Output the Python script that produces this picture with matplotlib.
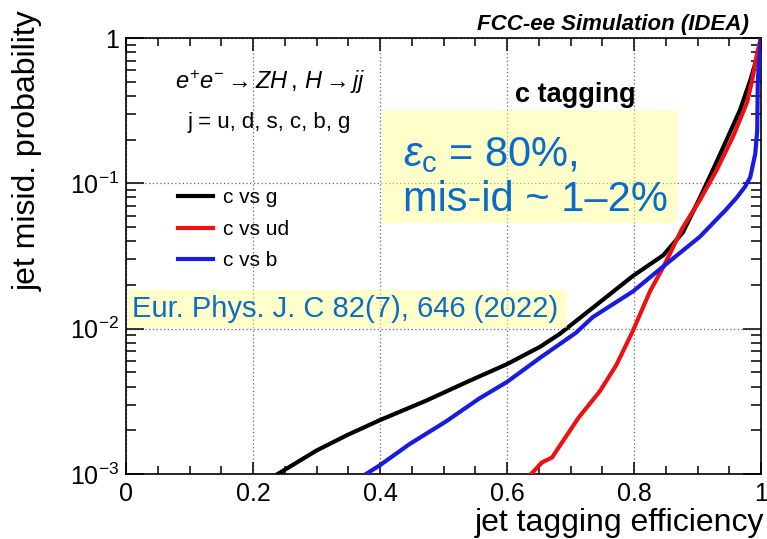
import matplotlib
matplotlib.use("Agg")
import matplotlib.pyplot as plt
import matplotlib.patches as patches
from matplotlib.ticker import LogLocator, NullFormatter, MultipleLocator

plt.rcParams['font.family'] = ['Liberation Sans', 'DejaVu Sans']
plt.rcParams['mathtext.fontset'] = 'custom'
plt.rcParams['mathtext.rm'] = 'Liberation Sans'
plt.rcParams['mathtext.it'] = 'Liberation Sans:italic'

# c vs g
eff_g = [0.239, 0.30, 0.348, 0.40, 0.473, 0.537, 0.60, 0.652, 0.683, 0.734,
         0.798, 0.846, 0.877, 0.904, 0.924, 0.946, 0.967, 0.983, 0.994, 1.0]
mis_g = [1.0e-3, 1.45e-3, 1.85e-3, 2.35e-3, 3.2e-3, 4.3e-3, 5.7e-3, 7.5e-3, 9.2e-3, 0.0138,
         0.023, 0.032, 0.046, 0.08, 0.123, 0.2, 0.32, 0.51, 0.74, 1.0]

# c vs ud
eff_ud = [0.638, 0.655, 0.671, 0.683, 0.713, 0.746, 0.772, 0.798, 0.825, 0.847,
          0.876, 0.904, 0.93, 0.956, 0.978, 0.986, 0.994, 1.0]
mis_ud = [1.0e-3, 1.2e-3, 1.3e-3, 1.56e-3, 2.45e-3, 3.7e-3, 5.6e-3, 9.6e-3, 0.018, 0.027,
          0.049, 0.077, 0.123, 0.21, 0.36, 0.51, 0.79, 1.0]

# c vs b
eff_b = [0.378, 0.40, 0.446, 0.504, 0.556, 0.60, 0.652, 0.709, 0.735, 0.798,
         0.847, 0.904, 0.945, 0.962, 0.975, 0.983, 0.991, 0.994, 0.995, 1.0]
mis_b = [1.0e-3, 1.15e-3, 1.6e-3, 2.3e-3, 3.3e-3, 4.3e-3, 6.3e-3, 9.4e-3, 0.012, 0.018,
         0.027, 0.043, 0.066, 0.08, 0.095, 0.11, 0.16, 0.23, 0.51, 1.0]

series_labels = ['c vs g', 'c vs ud', 'c vs b']
x_ticks = [0, 0.2, 0.4, 0.6, 0.8, 1.0]
x_tick_labels = ['0', '0.2', '0.4', '0.6', '0.8', '1']
y_ticks = [1e-3, 1e-2, 1e-1, 1]
y_tick_labels = [r'$10^{-3}$', r'$10^{-2}$', r'$10^{-1}$', '1']

text_blue = '#0a6cc8'

fig = plt.figure(figsize=(7.67, 5.39), dpi=100)
ax = fig.add_axes([126 / 767, 1 - 474 / 539, 635 / 767, 436 / 539])

ax.plot(eff_g, mis_g, color='black', lw=3, label=series_labels[0], zorder=3)
ax.plot(eff_ud, mis_ud, color='#ee1111', lw=3, label=series_labels[1], zorder=3)
ax.plot(eff_b, mis_b, color='#1a1ae0', lw=3, label=series_labels[2], zorder=3)

ax.set_yscale('log')
ax.set_xlim(0, 1)
ax.set_ylim(1e-3, 1)

ax.set_xticks(x_ticks)
ax.set_xticklabels(x_tick_labels)
ax.xaxis.set_minor_locator(MultipleLocator(0.05))
ax.set_yticks(y_ticks)
ax.set_yticklabels(y_tick_labels)
ax.yaxis.set_minor_locator(LogLocator(base=10, subs=range(2, 10)))
ax.yaxis.set_minor_formatter(NullFormatter())

ax.tick_params(which='both', direction='in', top=True, right=True, labelsize=18,
               width=1.1)
ax.tick_params(axis='x', which='major', length=9, pad=6)
ax.tick_params(axis='x', which='minor', length=6)
ax.tick_params(axis='y', which='major', length=13, pad=5)
ax.tick_params(axis='y', which='minor', length=7)
for s in ax.spines.values():
    s.set_linewidth(1.2)

ax.grid(True, which='major', linestyle=(0, (1, 2)), color='#666666', lw=0.9)

# legend
ax.legend(loc='upper left', bbox_to_anchor=(0.082, 0.655), frameon=False,
          fontsize=15, handlelength=1.7, handletextpad=0.45, labelspacing=0.6,
          borderpad=0, borderaxespad=0)

# annotations
ax.text(0.227, 0.899, r'$e^{+}e^{-}\rightarrow ZH\,,\,H\rightarrow jj$',
        transform=ax.transAxes, ha='center', va='center', fontsize=17)
ax.text(0.225, 0.807, 'j = u, d, s, c, b, g', transform=ax.transAxes,
        ha='center', va='center', fontsize=16)
ax.text(0.707, 0.869, 'c tagging', transform=ax.transAxes, ha='center',
        va='center', fontsize=19.5, fontweight='bold')

box1 = patches.Rectangle((0.403, 0.576), 0.465, 0.259, transform=ax.transAxes,
                         facecolor='#ffff88', alpha=0.45, edgecolor='none',
                         zorder=4)
ax.add_patch(box1)
ax.text(0.436, 0.732, r'$\varepsilon_{\mathrm{c}}$ = 80%,', transform=ax.transAxes,
        ha='left', va='center', fontsize=30, color=text_blue, zorder=5)
ax.text(0.436, 0.628, 'mis-id ~ 1–2%', transform=ax.transAxes,
        ha='left', va='center', fontsize=30, color=text_blue, zorder=5)

box2 = patches.Rectangle((0.003, 0.335), 0.691, 0.087, transform=ax.transAxes,
                         facecolor='#ffff88', alpha=0.45, edgecolor='none',
                         zorder=4)
ax.add_patch(box2)
ax.text(0.009, 0.378, 'Eur. Phys. J. C 82(7), 646 (2022)', transform=ax.transAxes,
        ha='left', va='center', fontsize=21, color=text_blue, zorder=5)

fig.text(0.977, 0.954, 'FCC-ee Simulation (IDEA)', ha='right', va='center',
         fontsize=16, fontweight='bold', fontstyle='italic')
fig.text(0.0365, 0.981, 'jet misid. probability', rotation=90, ha='center',
         va='top', fontsize=23)
fig.text(0.997, 0.03, 'jet tagging efficiency', ha='right', va='center',
         fontsize=23)

fig.savefig('out.png', dpi=100)
